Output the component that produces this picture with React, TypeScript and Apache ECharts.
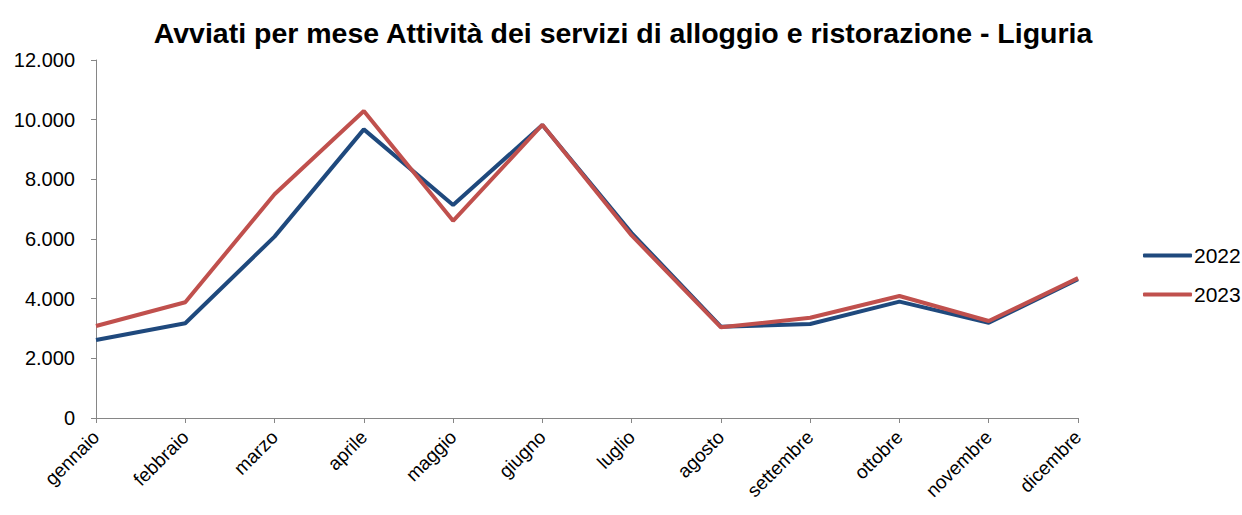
import React, { useEffect, useRef } from "react";
import * as echarts from "echarts";

const months = ["gennaio", "febbraio", "marzo", "aprile", "maggio", "giugno", "luglio", "agosto", "settembre", "ottobre", "novembre", "dicembre"];
const values2022 = [2615, 3175, 6080, 9675, 7140, 9820, 6200, 3060, 3150, 3900, 3195, 4650];
const values2023 = [3085, 3880, 7500, 10290, 6610, 9830, 6120, 3040, 3360, 4090, 3250, 4690];
const yTicks = { min: 0, max: 12000, interval: 2000 };

function fmt(v: number): string {
  const s = String(Math.round(v));
  return s.replace(/\B(?=(\d{3})+(?!\d))/g, ".");
}

export default function App() {
  const ref = useRef<HTMLDivElement>(null);
  useEffect(() => {
    if (!ref.current) return;
    const chart = echarts.init(ref.current, null, { renderer: "svg" });
    const font = "Liberation Sans, Arial, sans-serif";
    chart.setOption({
      animation: false,
      backgroundColor: "#ffffff",
      title: {
        text: "Avviati per mese Attività dei servizi di alloggio e ristorazione - Liguria",
        left: 618,
        textAlign: "center",
        top: 13,
        textStyle: { fontFamily: font, fontSize: 28.5, fontWeight: "bold", color: "#000" },
      },
      legend: {
        orient: "vertical",
        left: 1138,
        top: 240,
        itemWidth: 49,
        itemHeight: 4,
        itemGap: 18,
        icon: "roundRect",
        textStyle: { fontFamily: font, fontSize: 21, color: "#000", padding: [0, 0, 0, -3] },
        data: ["2022", "2023"],
      },
      grid: { left: 96, right: 164, top: 60, bottom: 97, containLabel: false },
      xAxis: {
        type: "category",
        data: months,
        boundaryGap: false,
        axisLine: { lineStyle: { color: "#868686", width: 1 } },
        axisTick: { show: true, length: 5, alignWithLabel: true, lineStyle: { color: "#868686" } },
        axisLabel: { rotate: 45, fontFamily: font, fontSize: 19, color: "#000", margin: 16, interval: 0 },
        splitLine: { show: false },
      },
      yAxis: {
        type: "value",
        min: yTicks.min,
        max: yTicks.max,
        interval: yTicks.interval,
        axisLine: { show: true, lineStyle: { color: "#868686", width: 1 } },
        axisTick: { show: true, length: 5, lineStyle: { color: "#868686" } },
        axisLabel: { fontFamily: font, fontSize: 20, color: "#000", margin: 21, formatter: (v: number) => fmt(v) },
        splitLine: { show: false },
      },
      series: [
        {
          name: "2022",
          type: "line",
          data: values2022,
          showSymbol: false,
          symbol: "none",
          lineStyle: { color: "#1F497D", width: 4 },
          itemStyle: { color: "#1F497D" },
        },
        {
          name: "2023",
          type: "line",
          data: values2023,
          showSymbol: false,
          symbol: "none",
          lineStyle: { color: "#C0504D", width: 4 },
          itemStyle: { color: "#C0504D" },
        },
      ],
    });
    return () => chart.dispose();
  }, []);
  return <div ref={ref} style={{ position: "fixed", left: 0, top: 0, width: 1242, height: 515 }} />;
}
